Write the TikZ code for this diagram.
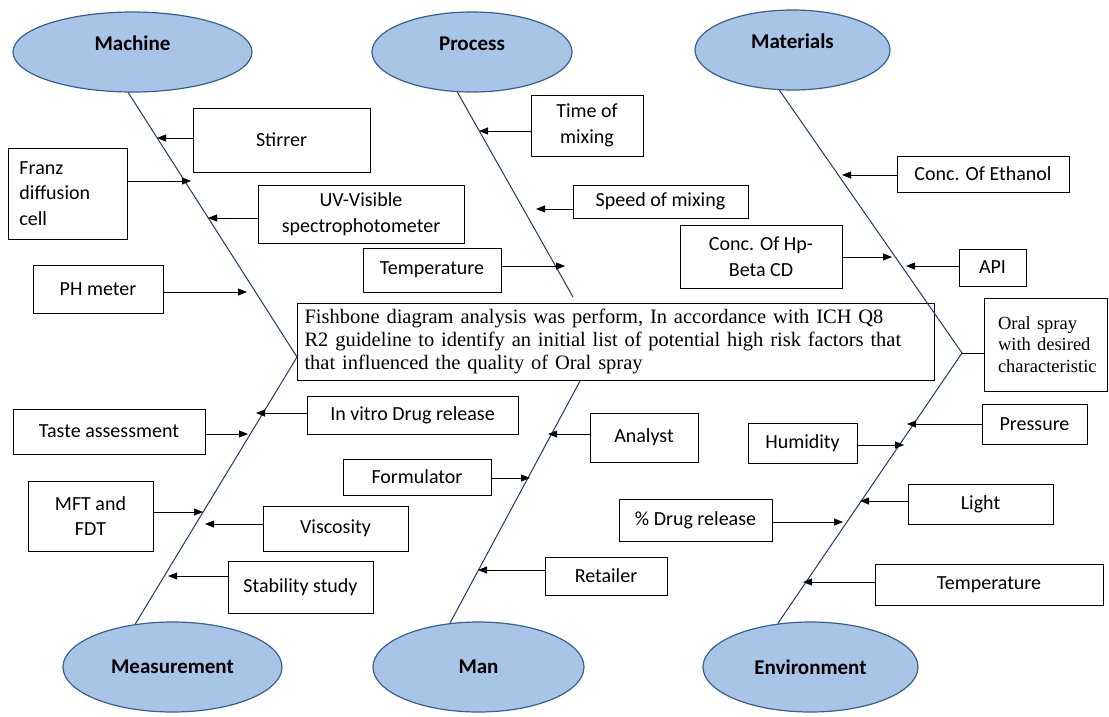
\documentclass[tikz,border=0pt]{standalone}
\usepackage{fontspec}
\setmainfont{Liberation Serif}
\newfontfamily\calib{Carlito}
\usepackage{tikz}
\usetikzlibrary{shapes.geometric, positioning, arrows.meta}
\definecolor{bonecol}{RGB}{31,56,100}
\definecolor{catfill}{RGB}{168,196,230}
\definecolor{catdraw}{RGB}{58,95,145}

\begin{document}
\begin{tikzpicture}[x=1pt, y=-1pt,
  cat/.style={ellipse, draw=catdraw, line width=1.2pt, fill=catfill, inner sep=0pt,
    font=\calib\bfseries\fontsize{21}{25}\selectfont},
  catup/.style={cat, text height=14pt, text depth=18pt},
  cause/.style={draw, line width=0.8pt, fill=white, align=center, inner sep=2pt,
    font=\calib\fontsize{20}{25.5}\selectfont},
  dims/.style 2 args={minimum width=#1pt, minimum height=#2pt},
  bone/.style={draw=bonecol, line width=1pt},
  feed/.style={-{Triangle[length=9pt, width=7pt]}, line width=0.8pt},
  summary/.style={draw, line width=0.8pt, text width=622pt, align=left, inner xsep=7.5pt,
    inner ysep=4pt, font=\fontsize{20.5}{23.3}\selectfont},
  effect/.style={draw, line width=0.8pt, fill=white, text width=95pt, align=left, inner xsep=14pt,
    font=\fontsize{18.5}{21.5}\selectfont}]
\useasboundingbox (0,0) rectangle (1109,716);
\node[catup, dims={239}{80}] (machine) at (132.5,52) {Machine};
\node[catup, dims={200}{80}] (process) at (472,52) {Process};
\node[catup, dims={195}{80}] (materials) at (792.5,50) {Materials};
\node[cat, dims={219}{90}] (measure) at (172.5,667) {Measurement};
\node[cat, dims={211}{90}] (man) at (478.5,667) {Man};
\node[cat, dims={215}{90}] (environ) at (810.5,667) {Environment};
\node[summary, minimum height=77pt] (note) at (615.5,341.5)
  {Fishbone diagram analysis was perform, In accordance with ICH Q8\\R2 guideline to identify an initial list of potential high risk factors that\\that influenced the quality of Oral spray};
\node[effect, minimum height=93pt] (spray) at (1045.5,344.5) {Oral spray\\with desired\\characteristic};
\node[cause, dims={177}{64}] (stirrer) at (281.5,140) {Stirrer};
\node[cause, dims={119}{91}, align=left, text width=96pt, inner xsep=11.5pt] (franz) at (67.5,193.5) {Franz\\diffusion\\cell};
\node[cause, dims={206}{58}] (uvvis) at (361,214) {UV-Visible\\spectrophotometer};
\node[cause, dims={130}{48}] (phmeter) at (98,289) {PH meter};
\node[cause, dims={112}{61}] (timemix) at (587,125.5) {Time of\\mixing};
\node[cause, dims={175}{33}] (speedmix) at (660.5,201.5) {Speed of mixing};
\node[cause, dims={138}{44}] (tempproc) at (432,270) {Temperature};
\node[cause, dims={172}{36}] (ethanol) at (983,174) {Conc. Of Ethanol};
\node[cause, dims={162}{63}] (hpbeta) at (761,256.5) {Conc. Of Hp-\\Beta CD};
\node[cause, dims={67}{37}] (api) at (992.5,267.5) {API};
\node[cause, dims={192}{45}] (taste) at (109,431.5) {Taste assessment};
\node[cause, dims={211}{38}] (invitro) at (412.5,415) {In vitro Drug release};
\node[cause, dims={125}{70}] (mftfdt) at (90.5,516) {MFT and\\FDT};
\node[cause, dims={145}{45}] (viscosity) at (335.5,528.5) {Viscosity};
\node[cause, dims={145}{52}] (stability) at (300.5,587) {Stability study};
\node[cause, dims={108}{49}] (analyst) at (644,437.5) {Analyst};
\node[cause, dims={148}{36}] (formulator) at (417,477) {Formulator};
\node[cause, dims={122}{38}] (retailer) at (606,576) {Retailer};
\node[cause, dims={105}{40}] (pressure) at (1034.5,424) {Pressure};
\node[cause, dims={109}{40}] (humidity) at (802.5,443) {Humidity};
\node[cause, dims={145}{40}] (light) at (980.5,504) {Light};
\node[cause, dims={153}{42}] (drugrel) at (695.5,520) {\% Drug release};
\node[cause, dims={228}{41}] (tempenv) at (989,584.5) {Temperature};
\coordinate (jl) at (297,357);
\coordinate (pend) at (573,297);
\coordinate (mend) at (580,381);
\coordinate (jr) at (962,353);
\draw[bone] (machine.264) -- (jl);
\draw[bone] (measure.131) -- (jl);
\draw[bone] (process.250) -- (pend);
\draw[bone] (man.123) -- (mend);
\draw[bone] (materials.252) -- (jr);
\draw[bone] (environ.127) -- (jr);
\draw[line width=1pt] (jr) -- (spray.west |- jr);
\coordinate (tStir) at (157,138);
\coordinate (tFranz) at (191,181);
\coordinate (tUV) at (208,218);
\coordinate (tPH) at (247,292);
\coordinate (tTime) at (479,131);
\coordinate (tSpeed) at (536,209);
\coordinate (tTempP) at (565,266);
\coordinate (tEth) at (842,175);
\coordinate (tHp) at (892,257);
\coordinate (tAPI) at (906,266);
\coordinate (tTaste) at (248,434);
\coordinate (tVitro) at (256,413);
\coordinate (tMFT) at (203,512);
\coordinate (tVisc) at (205,524);
\coordinate (tStab) at (168,576);
\coordinate (tAnal) at (548,434);
\coordinate (tForm) at (530,478);
\coordinate (tRet) at (478,570);
\coordinate (tPres) at (907,424);
\coordinate (tHum) at (904,445);
\coordinate (tLight) at (860,501);
\coordinate (tDrug) at (843,522);
\coordinate (tTempE) at (803,582);
\draw[feed] (stirrer.west |- tStir) -- (tStir);
\draw[feed] (franz.east |- tFranz) -- (tFranz);
\draw[feed] (uvvis.west |- tUV) -- (tUV);
\draw[feed] (phmeter.east |- tPH) -- (tPH);
\draw[feed] (timemix.west |- tTime) -- (tTime);
\draw[feed] (speedmix.west |- tSpeed) -- (tSpeed);
\draw[feed] (tempproc.east |- tTempP) -- (tTempP);
\draw[feed] (ethanol.west |- tEth) -- (tEth);
\draw[feed] (hpbeta.east |- tHp) -- (tHp);
\draw[feed] (api.west |- tAPI) -- (tAPI);
\draw[feed] (taste.east |- tTaste) -- (tTaste);
\draw[feed] (invitro.west |- tVitro) -- (tVitro);
\draw[feed] (mftfdt.east |- tMFT) -- (tMFT);
\draw[feed] (viscosity.west |- tVisc) -- (tVisc);
\draw[feed] (stability.west |- tStab) -- (tStab);
\draw[feed] (analyst.west |- tAnal) -- (tAnal);
\draw[feed] (formulator.east |- tForm) -- (tForm);
\draw[feed] (retailer.west |- tRet) -- (tRet);
\draw[feed] (pressure.west |- tPres) -- (tPres);
\draw[feed] (humidity.east |- tHum) -- (tHum);
\draw[feed] (light.west |- tLight) -- (tLight);
\draw[feed] (drugrel.east |- tDrug) -- (tDrug);
\draw[feed] (tempenv.west |- tTempE) -- (tTempE);
\end{tikzpicture}
\end{document}
